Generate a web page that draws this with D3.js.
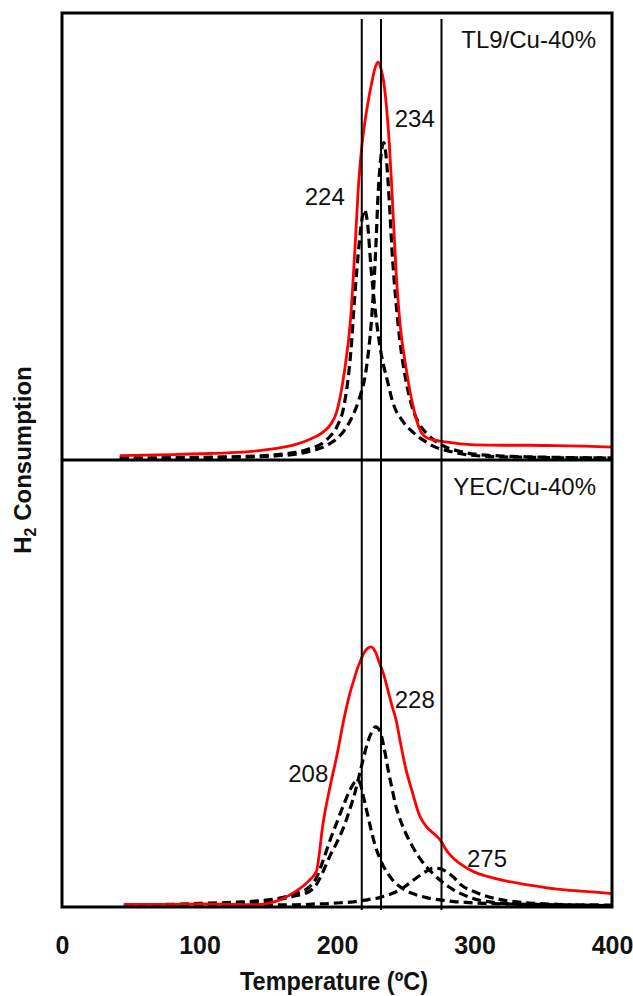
<!DOCTYPE html>
<html>
<head>
<meta charset="utf-8">
<script src="https://cdn.jsdelivr.net/npm/d3@7"></script>
<style>
  body { margin: 0; background: #fff; }
  text { font-family: "Liberation Sans", Arial, sans-serif; }
</style>
</head>
<body>
<div id="wrapper"></div>
<script>
// Data (y in % of each panel's height)
const tempsTop = [42, 60, 80, 100, 120, 140, 160, 170, 180, 190, 195, 200, 205, 210, 213, 216, 218, 220, 222, 225, 228, 230, 232, 234, 236, 238, 240, 243, 246, 250, 255, 260, 265, 270, 280, 290, 300, 320, 340, 360, 380, 400]
const tl9Total = [1.0, 1.1, 1.2, 1.4, 1.6, 2.0, 2.8, 3.5, 4.6, 6.3, 7.8, 11, 19, 32, 47, 63, 70, 75, 79, 84, 88, 89, 87.5, 84.5, 79, 71, 60, 42, 30, 21, 12.5, 7, 5, 4.5, 4.0, 3.6, 3.4, 3.3, 3.3, 3.2, 3.1, 2.9]
const tl9Peak224 = [0.4, 0.4, 0.5, 0.6, 0.7, 0.9, 1.3, 1.7, 2.5, 3.9, 5.3, 7.5, 12, 24, 37, 48, 53.5, 56, 53.5, 42, 33, 28, 24, 21, 18.5, 16, 13.5, 11, 9.5, 7.8, 6.3, 5, 4, 3.1, 2.1, 1.4, 1, 0.7, 0.6, 0.5, 0.5, 0.4]
const tl9Peak234 = [0.4, 0.4, 0.4, 0.5, 0.6, 0.7, 1.0, 1.3, 1.9, 2.9, 3.7, 4.8, 6.5, 9, 11, 13.5, 15.5, 18, 22, 31, 46, 60, 68, 71, 67, 58, 47, 35, 26, 18, 11.5, 8, 6, 4.6, 2.8, 1.9, 1.3, 0.9, 0.7, 0.6, 0.5, 0.5]

const tempsBottom = [45, 60, 80, 100, 120, 140, 150, 160, 170, 180, 185, 190, 195, 200, 205, 210, 213, 215, 217, 219, 222, 225, 228, 231, 234, 237, 240, 243, 246, 250, 255, 260, 265, 270, 275, 280, 285, 290, 300, 310, 320, 340, 360, 380, 400]
const yecTotal = [0.6, 0.6, 0.6, 0.7, 0.6, 0.5, 0.8, 1.8, 3.5, 6, 8, 19, 27, 34, 42, 48.5, 51.5, 53.5, 55, 56.5, 57.8, 58.2, 57, 54.5, 52, 48.5, 45, 41.8, 37, 31, 25.5, 20.5, 18, 16.5, 15, 12.5, 10.8, 9.6, 7.8, 6.8, 6.0, 4.9, 4.0, 3.5, 3.0]
const yecPeak208 = [0.4, 0.5, 0.6, 0.8, 1.0, 1.3, 1.6, 2.1, 3.0, 4.5, 6.5, 10.5, 15, 19, 23, 26.5, 28, 28.4, 27.5, 25, 21, 17, 13.5, 11, 9, 7.5, 6.2, 5.2, 4.5, 3.7, 3, 2.5, 2.1, 1.8, 1.6, 1.4, 1.2, 1.1, 0.9, 0.8, 0.7, 0.6, 0.5, 0.5, 0.4]
const yecPeak228 = [0.3, 0.3, 0.4, 0.5, 0.7, 1.0, 1.3, 1.8, 2.5, 3.5, 5, 8, 11.5, 14.5, 18, 22.5, 25.5, 28, 30.5, 33, 36.5, 39, 40.3, 39.5, 36, 31, 26.5, 22.4, 19.5, 16.5, 13.5, 11, 9, 7.4, 6, 4.8, 3.8, 3, 1.8, 1.2, 0.8, 0.5, 0.4, 0.3, 0.3]
const yecPeak275 = [0.2, 0.2, 0.3, 0.3, 0.3, 0.4, 0.4, 0.5, 0.5, 0.6, 0.7, 0.7, 0.8, 0.9, 1.0, 1.1, 1.2, 1.3, 1.4, 1.5, 1.6, 1.8, 1.9, 2.1, 2.4, 2.7, 3.0, 3.4, 3.9, 4.7, 5.9, 7.0, 8.0, 8.7, 8.6, 7.8, 6.6, 5.0, 3.4, 2.3, 1.6, 0.9, 0.6, 0.4, 0.3]

const peakLines = [218, 232, 276]
const xTicks = [0, 100, 200, 300, 400]
const panelNames = ['TL9/Cu-40%', 'YEC/Cu-40%']

// annotations: [text, temperature, value]
const topLabels = [['224', 176.5, 57], ['234', 242, 74.5]]
const bottomLabels = [['208', 164.5, 28], ['228', 242, 44.5], ['275', 294.5, 9]]

const dimensions = {
  width: 633,
  height: 996,
  margin: { top: 13, right: 21, bottom: 89, left: 62 },
}
dimensions.boundedWidth = dimensions.width - dimensions.margin.left - dimensions.margin.right
dimensions.boundedHeight = dimensions.height - dimensions.margin.top - dimensions.margin.bottom
const panelHeight = dimensions.boundedHeight / 2

const svg = d3.select('#wrapper').append('svg')
  .attr('width', dimensions.width)
  .attr('height', dimensions.height)

const bounds = svg.append('g')
  .attr('transform', `translate(${dimensions.margin.left},${dimensions.margin.top})`)

const xScale = d3.scaleLinear().domain([0, 400]).range([0, dimensions.boundedWidth])

const panels = [
  { temps: tempsTop, total: tl9Total, peaks: [tl9Peak224, tl9Peak234], labels: topLabels, name: panelNames[0] },
  { temps: tempsBottom, total: yecTotal, peaks: [yecPeak208, yecPeak228, yecPeak275], labels: bottomLabels, name: panelNames[1] },
]

panels.forEach((p, i) => {
  const yScale = d3.scaleLinear().domain([0, 100]).range([panelHeight * (i + 1), panelHeight * i])
  const line = d3.line()
    .x(d => xScale(d[0]))
    .y(d => yScale(d[1]))
    .curve(d3.curveMonotoneX)

  p.peaks.forEach(vals => {
    bounds.append('path')
      .attr('d', line(p.temps.map((t, j) => [t, vals[j]])))
      .attr('fill', 'none')
      .attr('stroke', '#000')
      .attr('stroke-width', 3.2)
      .attr('stroke-dasharray', '9,5')
  })

  bounds.append('path')
    .attr('d', line(p.temps.map((t, j) => [t, p.total[j]])))
    .attr('fill', 'none')
    .attr('stroke', '#ff0000')
    .attr('stroke-width', 2.8)

  p.labels.forEach(([txt, t, v]) => {
    bounds.append('text')
      .attr('x', xScale(t))
      .attr('y', yScale(v))
      .attr('font-size', 24)
      .attr('fill', '#111')
      .text(txt)
  })

  bounds.append('text')
    .attr('x', xScale(400) - 16)
    .attr('y', yScale(100) + 35)
    .attr('text-anchor', 'end')
    .attr('font-size', 24)
    .attr('fill', '#111')
    .text(p.name)
})

// reference lines
bounds.selectAll('.peak-line')
  .data(peakLines)
  .join('line')
  .attr('class', 'peak-line')
  .attr('x1', d => xScale(d))
  .attr('x2', d => xScale(d))
  .attr('y1', 6)
  .attr('y2', dimensions.boundedHeight + 3)
  .attr('stroke', '#000')
  .attr('stroke-width', 2)

// frame and divider
bounds.append('rect')
  .attr('width', dimensions.boundedWidth)
  .attr('height', dimensions.boundedHeight)
  .attr('fill', 'none')
  .attr('stroke', '#000')
  .attr('stroke-width', 3)

bounds.append('line')
  .attr('x1', 0).attr('x2', dimensions.boundedWidth)
  .attr('y1', panelHeight).attr('y2', panelHeight)
  .attr('stroke', '#000')
  .attr('stroke-width', 3)

// x axis
const xAxis = bounds.append('g')
  .attr('transform', `translate(0,${dimensions.boundedHeight})`)
  .call(d3.axisBottom(xScale).tickValues(xTicks).tickSize(0).tickPadding(29))
xAxis.select('.domain').remove()
xAxis.selectAll('text')
  .attr('font-size', 25)
  .attr('font-weight', 'bold')
  .attr('fill', '#111')
  .style('font-family', '"Liberation Sans", Arial, sans-serif')

bounds.append('text')
  .attr('x', dimensions.boundedWidth / 2 - 3)
  .attr('y', dimensions.boundedHeight + 83)
  .attr('text-anchor', 'middle')
  .attr('font-size', 25)
  .attr('font-weight', 'bold')
  .attr('textLength', 188)
  .attr('lengthAdjust', 'spacingAndGlyphs')
  .attr('fill', '#111')
  .text('Temperature (ºC)')

// y label
const yLabel = svg.append('text')
  .attr('transform', `translate(31,${dimensions.margin.top + panelHeight}) rotate(-90)`)
  .attr('text-anchor', 'middle')
  .attr('font-size', 24)
  .attr('font-weight', 'bold')
  .attr('fill', '#111')
yLabel.append('tspan').text('H')
yLabel.append('tspan').attr('font-size', 16).attr('dy', 5).text('2')
yLabel.append('tspan').attr('dy', -5).text(' Consumption')
</script>
</body>
</html>
